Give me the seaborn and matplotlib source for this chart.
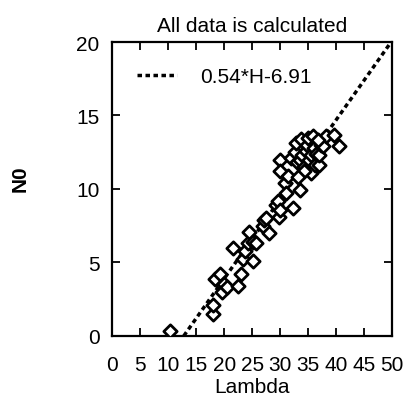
import numpy as np
import pandas as pd
import matplotlib
matplotlib.use("Agg")
import matplotlib.pyplot as plt
import seaborn as sns

# Measured points (Lambda vs N0)
lam = [10.4, 18.0, 18.1, 18.4, 19.3, 19.6, 20.0, 20.6, 21.5, 22.4, 23.0, 23.3,
       23.8, 24.2, 24.5, 25.1, 25.2, 25.7, 26.9, 27.2, 27.5, 28.1, 29.3, 29.6,
       29.8, 30.0,
       29.9, 29.9, 30.8, 31.1, 31.4, 31.9, 32.3, 32.6, 32.9, 33.5, 33.7, 33.0,
       33.5, 34.0, 34.3, 34.6, 34.8, 35.0, 35.2, 35.5, 35.5, 35.8, 36.0, 36.3,
       36.5, 37.0, 37.0, 37.3, 37.6, 38.2, 39.7, 40.6, 34.2, 36.8, 33.2]
n0 = [0.3, 1.5, 2.1, 3.9, 4.2, 3.0, 3.5, 3.3, 6.0, 3.4, 4.2, 5.2,
      5.8, 6.3, 7.1, 5.1, 6.4, 6.3, 7.5, 7.9, 8.0, 7.0, 8.9, 9.2,
      8.1, 8.6,
      12.0, 11.2, 10.4, 9.7, 10.9, 12.1, 8.7, 12.5, 13.1, 9.9, 13.4, 11.8,
      12.0, 12.3, 11.5, 12.6, 13.0, 13.5, 12.0, 11.1, 12.3, 13.6, 12.8, 11.6,
      12.4, 11.6, 12.3, 13.0, 12.9, 13.6, 13.7, 12.9, 11.2, 13.3, 10.8]

# Linear fit N0 = slope*H + intercept
slope = 0.54
intercept = -6.91

xticks = [0, 5, 10, 15, 20, 25, 30, 35, 40, 45, 50]
yticks = [0, 5, 10, 15, 20]

sns.set_theme(style="ticks")
plt.rcParams['font.family'] = ['Liberation Sans', 'DejaVu Sans']
plt.rcParams.update({"text.color": "black", "axes.labelcolor": "black",
                     "xtick.color": "black", "ytick.color": "black"})

FS = 15

fig = plt.figure(figsize=(4.05, 4.02), dpi=100)
ax = fig.add_axes([0.277, 0.162, 0.691, 0.731])

df = pd.DataFrame({"Lambda": lam, "N0": n0})

# Fit line from where it crosses zero to the top of the axes
x0 = -intercept / slope
x1 = (20 - intercept) / slope
fx = np.array([x0, x1])
fit = pd.DataFrame({"Lambda": fx, "N0": slope * fx + intercept})
sns.lineplot(data=fit, x="Lambda", y="N0", ax=ax, color="black", lw=2.5,
             linestyle=(0, (1.3, 1.0)), label=f"{slope}*H{intercept}")

sns.scatterplot(data=df, x="Lambda", y="N0", ax=ax, marker="D", s=46,
                facecolor="white", edgecolor="black", linewidth=2.0, zorder=3)

ax.set_xlim(0, 50)
ax.set_ylim(0, 20)
ax.set_xticks(xticks)
ax.set_yticks(yticks)
ax.tick_params(direction="in", length=6, width=1.3, top=True, right=True,
               labelsize=FS)
ax.tick_params(axis="x", pad=14)
ax.tick_params(axis="y", pad=9)
for s in ax.spines.values():
    s.set_linewidth(1.6)
    s.set_color("black")

ax.set_title("All data is calculated", fontsize=FS, pad=8)
ax.set_xlabel("Lambda", fontsize=FS, labelpad=2)
ax.set_ylabel("N0", fontsize=FS, fontweight="bold")
ax.yaxis.set_label_coords(-0.295, 0.54)

ax.legend(loc="upper left", frameon=False, fontsize=FS, handlelength=1.9,
          handletextpad=1.1, borderaxespad=0.8)

fig.savefig("out.png", dpi=100)
